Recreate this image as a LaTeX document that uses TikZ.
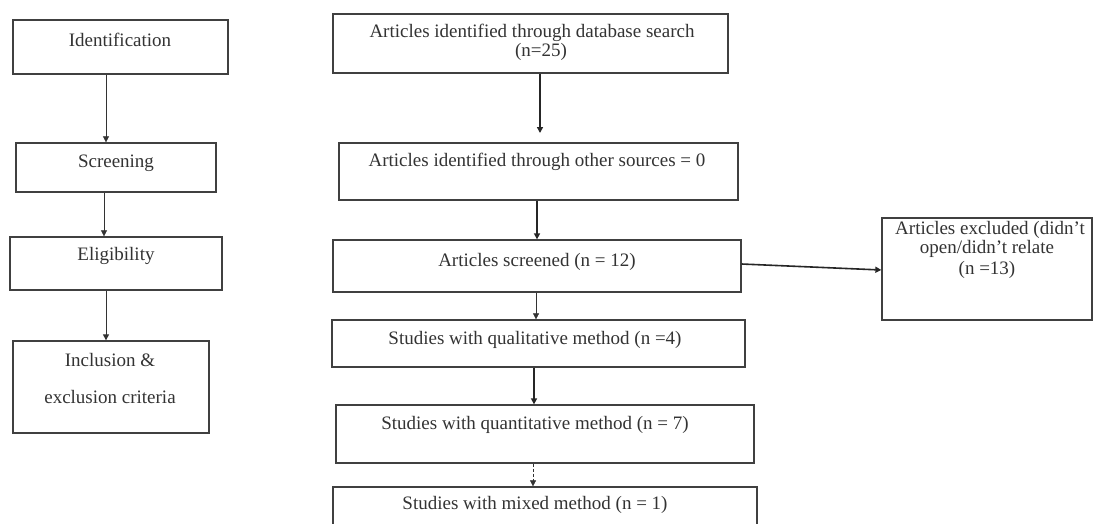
\documentclass[tikz,border=0pt]{standalone}
\usepackage{fontspec}
\setmainfont{Liberation Serif}
\usetikzlibrary{arrows.meta}
\begin{document}
\begin{tikzpicture}[x=1pt,y=-1pt,
  box/.style={draw=black!75,line width=1.3pt,inner sep=0pt,rectangle},
  txt/.style={font=\fontsize{19}{21}\selectfont,inner sep=0pt,anchor=center,text=black!80},
  arr/.style={-{Triangle[length=6pt,width=6pt]},line width=0.6pt,black!80},
  thick arr/.style={-{Triangle[length=6pt,width=6pt]},line width=1.6pt,black!85}]
\useasboundingbox[fill=white] (0,0) rectangle (1094,523);
% left column
\node[box,minimum width=215,minimum height=54] (idb) at (120.5,47) {};
\node[txt] (idt) at (120,40) {Identification};
\node[box,minimum width=200,minimum height=49] (scr) at (116,167.5) {};
\node[txt] (scrt) at (116,163) {Screening};
\node[box,minimum width=212,minimum height=53] (eli) at (116,263.5) {};
\node[txt] (elit) at (116,256) {Eligibility};
\node[box,minimum width=196,minimum height=92] (inc) at (111,387) {};
\node[txt] (inct1) at (110,360) {Inclusion \&};
\node[txt] (inct2) at (110,397) {exclusion criteria};
\draw[arr] (idb.south -| 106,0) -- (scr.north -| 106,0);
\draw[arr] (scr.south -| 104,0) -- (eli.north -| 104,0);
\draw[arr,line width=1pt] (eli.south -| 106,0) -- (inc.north -| 106,0);
% right column
\node[box,minimum width=395,minimum height=59] (db) at (530.5,43.5) {};
\node[txt] (dbt1) at (532,33) {Articles identified through database search};
\node[txt] (dbt2) at (541,52) {(n=25)};
\node[box,minimum width=399,minimum height=57] (oth) at (538.5,171.5) {};
\node[txt] (otht) at (537,162) {Articles identified through other sources = 0};
\node[box,minimum width=408,minimum height=52] (scrn) at (537,266) {};
\node[txt] (scrnt) at (537,262) {Articles screened (n = 12)};
\node[box,minimum width=413,minimum height=47] (qual) at (538.5,343.5) {};
\node[txt] (qualt) at (535,340) {Studies with qualitative method (n =4)};
\node[box,minimum width=418,minimum height=58] (quant) at (545,434) {};
\node[txt] (quantt) at (535,425) {Studies with quantitative method (n = 7)};
\node[box,minimum width=424,minimum height=50] (mix) at (545,512) {};
\node[txt] (mixt) at (535,505) {Studies with mixed method (n = 1)};
\node[box,minimum width=210,minimum height=102] (excl) at (987,269) {};
\node[txt] (exclt1) at (990,230) {Articles excluded (didn't};
\node[txt] (exclt2) at (987,249) {open/didn't relate};
\node[txt] (exclt3) at (987,270) {(n =13)};
\coordinate (dbend) at (540,133);
\draw[thick arr] (db.south -| 540,0) -- (dbend);
\draw[thick arr] (oth.south -| 537,0) -- (scrn.north -| 537,0);
\draw[arr] (scrn.south -| 536,0) -- (qual.north -| 536,0);
\draw[thick arr] (qual.south -| 534,0) -- (quant.north -| 534,0);
\draw[arr,densely dashed] (quant.south -| 533,0) -- (mix.north -| 533,0);
\draw[thick arr] (scrn.east |- 0,264) -- (excl.west |- 0,270);
\end{tikzpicture}
\end{document}
